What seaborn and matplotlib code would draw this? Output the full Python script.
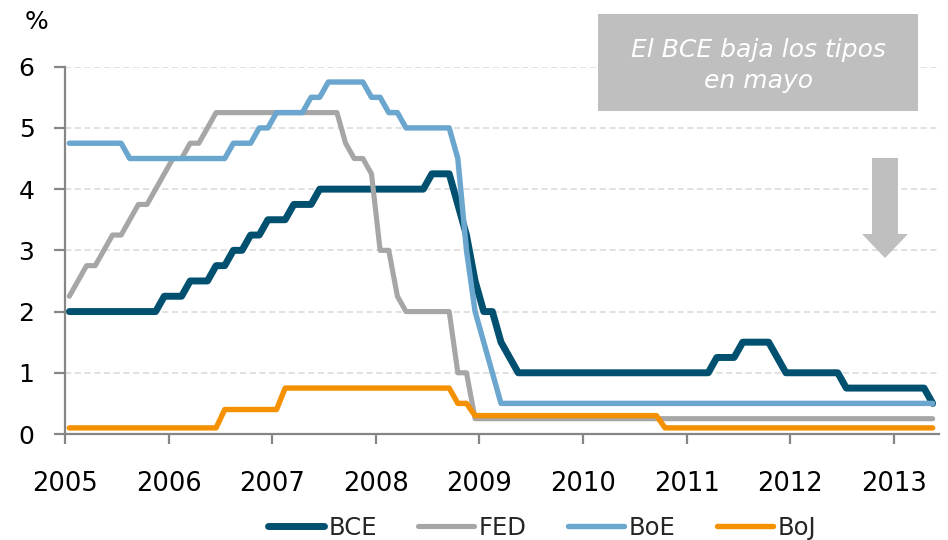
import numpy as np
import pandas as pd
import matplotlib
matplotlib.use("Agg")
import matplotlib.pyplot as plt
import seaborn as sns
from matplotlib.lines import Line2D
from matplotlib.patches import Rectangle, FancyArrow

# ---------------- data (monthly, Jan 2005 - May 2013) ----------------
bancos = ["BCE", "FED", "BoE", "BoJ"]
anios_ticks = [2005, 2006, 2007, 2008, 2009, 2010, 2011, 2012, 2013]
ticks_y = [0, 1, 2, 3, 4, 5, 6]

bce = [
    2.00, 2.00, 2.00, 2.00, 2.00, 2.00, 2.00, 2.00, 2.00, 2.00, 2.00, 2.25,  # 2005
    2.25, 2.25, 2.50, 2.50, 2.50, 2.75, 2.75, 3.00, 3.00, 3.25, 3.25, 3.50,  # 2006
    3.50, 3.50, 3.75, 3.75, 3.75, 4.00, 4.00, 4.00, 4.00, 4.00, 4.00, 4.00,  # 2007
    4.00, 4.00, 4.00, 4.00, 4.00, 4.00, 4.25, 4.25, 4.25, 3.75, 3.25, 2.50,  # 2008
    2.00, 2.00, 1.50, 1.25, 1.00, 1.00, 1.00, 1.00, 1.00, 1.00, 1.00, 1.00,  # 2009
    1.00, 1.00, 1.00, 1.00, 1.00, 1.00, 1.00, 1.00, 1.00, 1.00, 1.00, 1.00,  # 2010
    1.00, 1.00, 1.00, 1.25, 1.25, 1.25, 1.50, 1.50, 1.50, 1.50, 1.25, 1.00,  # 2011
    1.00, 1.00, 1.00, 1.00, 1.00, 1.00, 0.75, 0.75, 0.75, 0.75, 0.75, 0.75,  # 2012
    0.75, 0.75, 0.75, 0.75, 0.50,                                            # 2013
]
fed = [
    2.25, 2.50, 2.75, 2.75, 3.00, 3.25, 3.25, 3.50, 3.75, 3.75, 4.00, 4.25,
    4.50, 4.50, 4.75, 4.75, 5.00, 5.25, 5.25, 5.25, 5.25, 5.25, 5.25, 5.25,
    5.25, 5.25, 5.25, 5.25, 5.25, 5.25, 5.25, 5.25, 4.75, 4.50, 4.50, 4.25,
    3.00, 3.00, 2.25, 2.00, 2.00, 2.00, 2.00, 2.00, 2.00, 1.00, 1.00, 0.25,
    0.25, 0.25, 0.25, 0.25, 0.25, 0.25, 0.25, 0.25, 0.25, 0.25, 0.25, 0.25,
    0.25, 0.25, 0.25, 0.25, 0.25, 0.25, 0.25, 0.25, 0.25, 0.25, 0.25, 0.25,
    0.25, 0.25, 0.25, 0.25, 0.25, 0.25, 0.25, 0.25, 0.25, 0.25, 0.25, 0.25,
    0.25, 0.25, 0.25, 0.25, 0.25, 0.25, 0.25, 0.25, 0.25, 0.25, 0.25, 0.25,
    0.25, 0.25, 0.25, 0.25, 0.25,
]
boe = [
    4.75, 4.75, 4.75, 4.75, 4.75, 4.75, 4.75, 4.50, 4.50, 4.50, 4.50, 4.50,
    4.50, 4.50, 4.50, 4.50, 4.50, 4.50, 4.50, 4.75, 4.75, 4.75, 5.00, 5.00,
    5.25, 5.25, 5.25, 5.25, 5.50, 5.50, 5.75, 5.75, 5.75, 5.75, 5.75, 5.50,
    5.50, 5.25, 5.25, 5.00, 5.00, 5.00, 5.00, 5.00, 5.00, 4.50, 3.00, 2.00,
    1.50, 1.00, 0.50, 0.50, 0.50, 0.50, 0.50, 0.50, 0.50, 0.50, 0.50, 0.50,
    0.50, 0.50, 0.50, 0.50, 0.50, 0.50, 0.50, 0.50, 0.50, 0.50, 0.50, 0.50,
    0.50, 0.50, 0.50, 0.50, 0.50, 0.50, 0.50, 0.50, 0.50, 0.50, 0.50, 0.50,
    0.50, 0.50, 0.50, 0.50, 0.50, 0.50, 0.50, 0.50, 0.50, 0.50, 0.50, 0.50,
    0.50, 0.50, 0.50, 0.50, 0.50,
]
boj = [
    0.10, 0.10, 0.10, 0.10, 0.10, 0.10, 0.10, 0.10, 0.10, 0.10, 0.10, 0.10,
    0.10, 0.10, 0.10, 0.10, 0.10, 0.10, 0.40, 0.40, 0.40, 0.40, 0.40, 0.40,
    0.40, 0.75, 0.75, 0.75, 0.75, 0.75, 0.75, 0.75, 0.75, 0.75, 0.75, 0.75,
    0.75, 0.75, 0.75, 0.75, 0.75, 0.75, 0.75, 0.75, 0.75, 0.50, 0.50, 0.30,
    0.30, 0.30, 0.30, 0.30, 0.30, 0.30, 0.30, 0.30, 0.30, 0.30, 0.30, 0.30,
    0.30, 0.30, 0.30, 0.30, 0.30, 0.30, 0.30, 0.30, 0.30, 0.10, 0.10, 0.10,
    0.10, 0.10, 0.10, 0.10, 0.10, 0.10, 0.10, 0.10, 0.10, 0.10, 0.10, 0.10,
    0.10, 0.10, 0.10, 0.10, 0.10, 0.10, 0.10, 0.10, 0.10, 0.10, 0.10, 0.10,
    0.10, 0.10, 0.10, 0.10, 0.10,
]

colores = {"BCE": "#02506F", "FED": "#A6A6A6", "BoE": "#6BA6CE", "BoJ": "#F59100"}
anchos = {"BCE": 5.0, "FED": 3.7, "BoE": 3.9, "BoJ": 3.9}

meses = pd.period_range("2005-01", "2013-05", freq="M")
x_mes = np.asarray(meses.year + (meses.month - 0.5) / 12.0, dtype=float)
df = pd.DataFrame({
    "fecha": np.tile(x_mes, len(bancos)),
    "tipo": bce + fed + boe + boj,
    "banco": np.repeat(bancos, len(meses)),
})

# ---------------- style ----------------
sns.set_theme(style="white")
plt.rcParams["font.family"] = ["DejaVu Sans"]
plt.rcParams["lines.scale_dashes"] = False
FS = 17.5
gris_eje = "#868686"

fig = plt.figure(figsize=(9.48, 5.40), dpi=100)
ax = fig.add_axes([65 / 948, 106 / 540, 874 / 948, 367.3 / 540])

sns.lineplot(data=df, x="fecha", y="tipo", hue="banco", hue_order=bancos,
             palette=colores, size="banco", sizes=anchos, size_order=bancos,
             estimator=None, legend=False, ax=ax,
             solid_capstyle="round", solid_joinstyle="round")

ax.set_xlim(2005.0, 2013.436)
ax.set_ylim(0, 6)
ax.set_xticks(anios_ticks)
ax.set_xticklabels([str(a) for a in anios_ticks])
ax.set_yticks(ticks_y)
ax.set_yticklabels([str(t) for t in ticks_y])
ax.set_xlabel("")
ax.set_ylabel("")

ax.yaxis.grid(True, color="#D9D9D9", linewidth=1.1, linestyle=(0, (4.5, 2.5)))
ax.xaxis.grid(False)
ax.set_axisbelow(True)
for s in ["top", "right"]:
    ax.spines[s].set_visible(False)
for s in ["left", "bottom"]:
    ax.spines[s].set_color(gris_eje)
    ax.spines[s].set_linewidth(1.6)

ax.tick_params(axis="both", which="major", direction="out", bottom=True, left=True,
               color=gris_eje, width=1.6, labelcolor="black")
ax.tick_params(axis="y", length=8, pad=14, labelsize=18)
ax.tick_params(axis="x", length=7.5, pad=19, labelsize=18.5)

# "%" unit label
fig.text(36 / 948, 1 - 22 / 540, "%", ha="center", va="center", fontsize=18, color="black")

# annotation box
fig.add_artist(Rectangle((598 / 948, 1 - 111 / 540), 320 / 948, 97 / 540,
                         transform=fig.transFigure, facecolor="#BFBFBF",
                         edgecolor="none", zorder=5))
fig.text(758 / 948, 1 - 65.5 / 540, "El BCE baja los tipos\nen mayo",
         ha="center", va="center", color="white", style="italic",
         fontsize=18, linespacing=1.35, zorder=6)

# down arrow
fig.add_artist(FancyArrow(885 / 948, 1 - 158 / 540, 0, -100 / 540,
                          width=26 / 948, head_width=46 / 948, head_length=24 / 540,
                          length_includes_head=True, transform=fig.transFigure,
                          facecolor="#BFBFBF", edgecolor="none", zorder=5))

# legend
handles = [Line2D([], [], color=colores[b], lw=anchos[b], solid_capstyle="round")
           for b in bancos]
fig.legend(handles, bancos, loc="center", bbox_to_anchor=(542 / 948, 12 / 540),
           ncol=4, frameon=False, fontsize=FS, handlelength=2.3,
           handletextpad=0.2, columnspacing=1.7, borderaxespad=0)

fig.savefig("out.png", dpi=100)
